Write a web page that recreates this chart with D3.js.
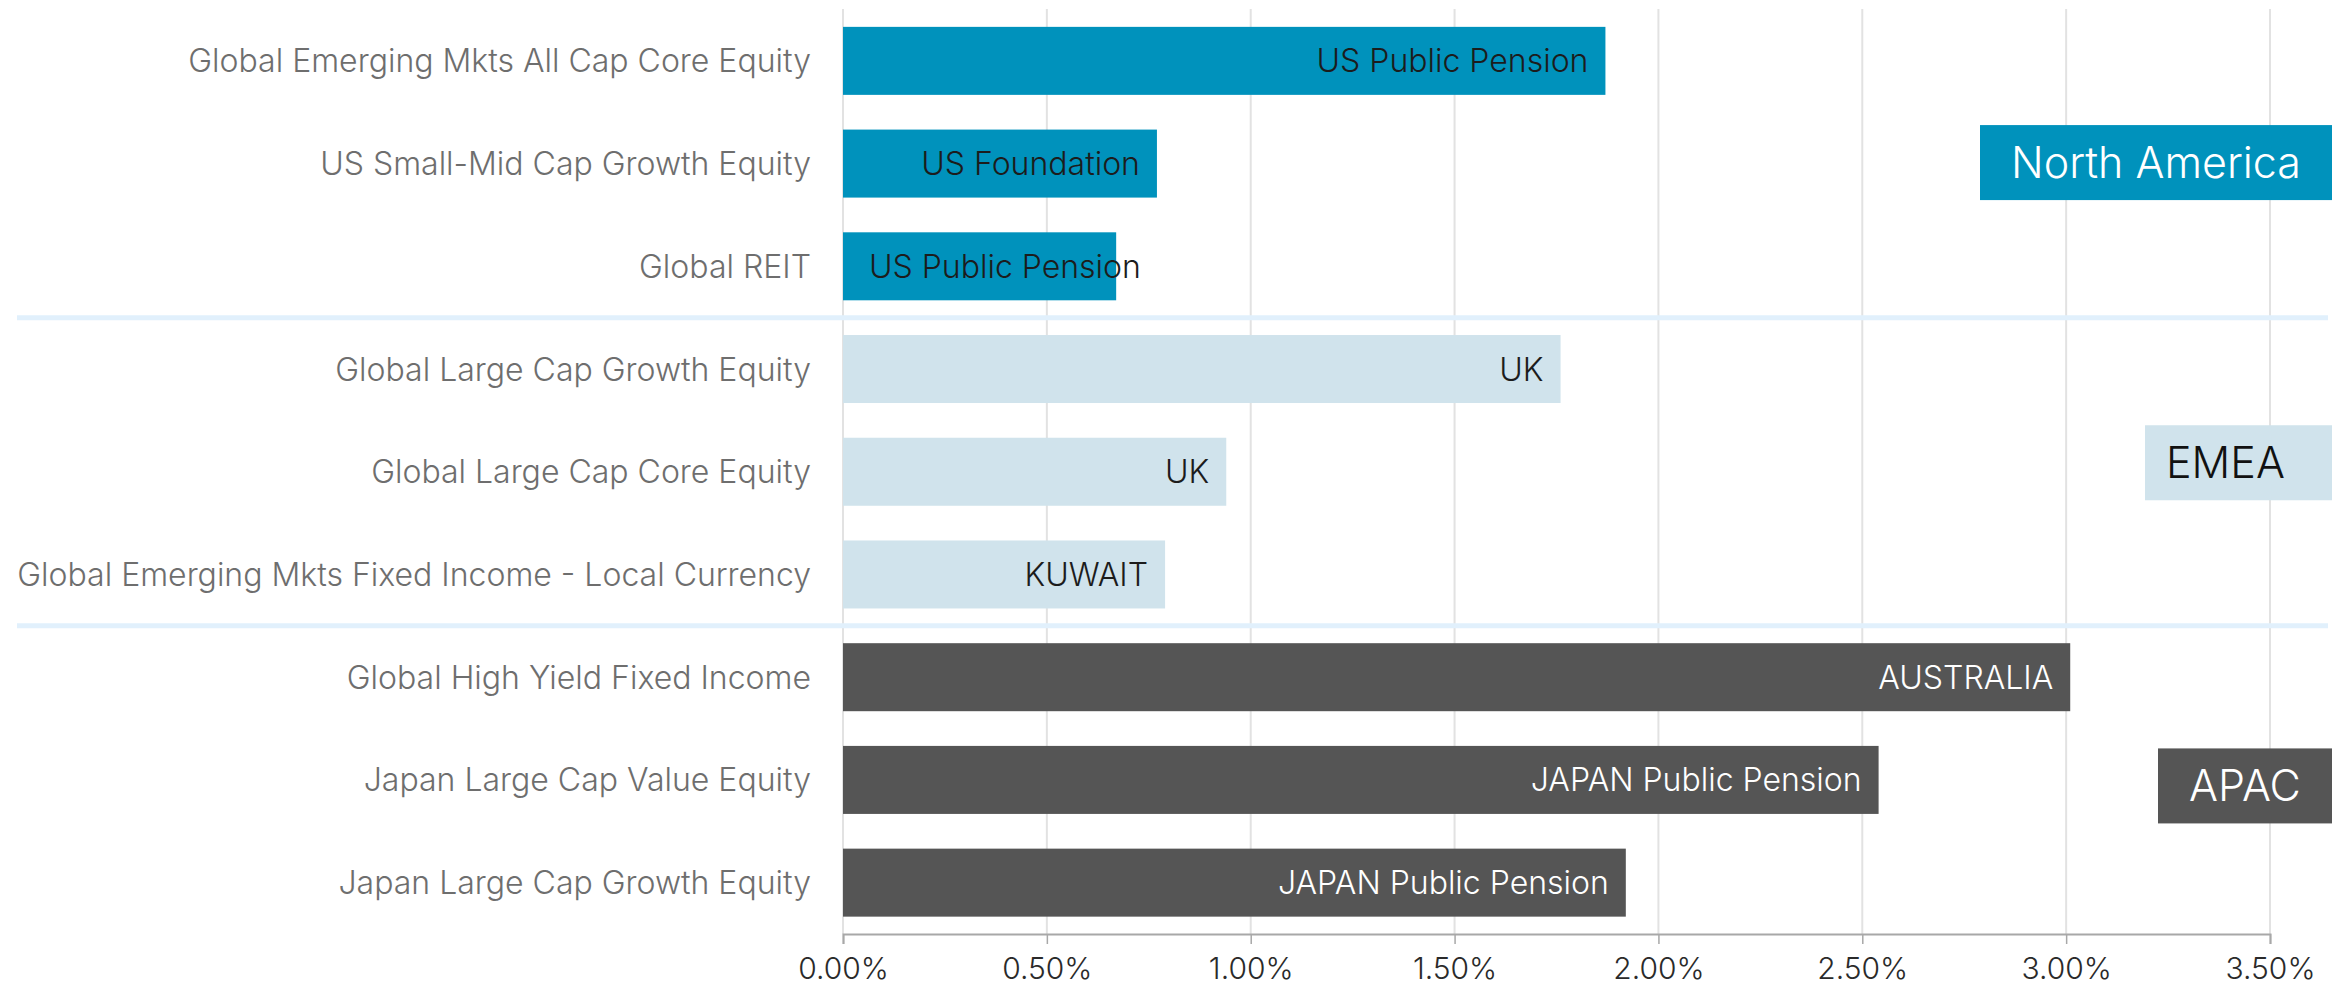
<!DOCTYPE html>
<html>
<head>
<meta charset="utf-8">
<script src="https://cdn.jsdelivr.net/npm/d3@7"></script>
<style>
  html, body { margin: 0; padding: 0; background: #fff; }
  svg { display: block; font-family: Inter, "Noto Sans", sans-serif; }
</style>
</head>
<body>
<svg id="chart" width="2348" height="991"></svg>
<script>
// ── Data ──
var categories = [
  'Global Emerging Mkts All Cap Core Equity',
  'US Small-Mid Cap Growth Equity',
  'Global REIT',
  'Global Large Cap Growth Equity',
  'Global Large Cap Core Equity',
  'Global Emerging Mkts Fixed Income - Local Currency',
  'Global High Yield Fixed Income',
  'Japan Large Cap Value Equity',
  'Japan Large Cap Growth Equity'
];
var values = [1.87, 0.77, 0.67, 1.76, 0.94, 0.79, 3.01, 2.54, 1.92];   // percent
var investors = [
  'US Public Pension', 'US Foundation', 'US Public Pension',
  'UK', 'UK', 'KUWAIT',
  'AUSTRALIA', 'JAPAN Public Pension', 'JAPAN Public Pension'
];
var regionOf = [
  'North America', 'North America', 'North America',
  'EMEA', 'EMEA', 'EMEA',
  'APAC', 'APAC', 'APAC'
];
var regionNames = ['North America', 'EMEA', 'APAC'];
var xTicks = [0, 0.5, 1, 1.5, 2, 2.5, 3, 3.5];

(function () {
  'use strict';

  var svg = d3.select('#chart');

  var regionFill = { 'North America': '#0092bc', 'EMEA': '#d0e3ec', 'APAC': '#555555' };
  var regionText = { 'North America': '#1c1c1c', 'EMEA': '#1c1c1c', 'APAC': '#ffffff' };
  var boxText = { 'North America': '#ffffff', 'EMEA': '#111111', 'APAC': '#ffffff' };

  var rows = categories.map(function (c, i) {
    return { cat: c, value: values[i], investor: investors[i], region: regionOf[i] };
  });

  var x = d3.scaleLinear().domain([0, 3.5]).range([843, 2270]);
  var y = d3.scaleBand().domain(categories).range([9.5, 934]).paddingInner(0.338).paddingOuter(0.169);

  // ── Grid ──
  svg.append('g').selectAll('line').data(xTicks).join('line')
    .attr('x1', function (d) { return x(d); }).attr('x2', function (d) { return x(d); })
    .attr('y1', 9).attr('y2', 934)
    .attr('stroke', '#e2e2e2').attr('stroke-width', 2);

  // ── Region separators ──
  var step = y.step(), gap = step * y.paddingInner();
  var seps = [categories[3], categories[6]];
  svg.append('g').selectAll('line').data(seps).join('line')
    .attr('x1', 17).attr('x2', 2328)
    .attr('y1', function (d) { return y(d) - gap / 2; })
    .attr('y2', function (d) { return y(d) - gap / 2; })
    .attr('stroke', '#e1f0fc').attr('stroke-width', 5);

  // ── Bars ──
  svg.append('g').selectAll('rect').data(rows).join('rect')
    .attr('x', x(0))
    .attr('y', function (d) { return y(d.cat); })
    .attr('width', function (d) { return x(d.value) - x(0); })
    .attr('height', y.bandwidth())
    .attr('fill', function (d) { return regionFill[d.region]; });

  // ── Bar labels ──
  var lbl = svg.append('g').selectAll('text').data(rows).join('text')
    .attr('y', function (d) { return y(d.cat) + y.bandwidth() / 2; })
    .attr('dy', '0.36em')
    .attr('text-anchor', 'end')
    .attr('font-size', 32).attr('font-weight', 300)
    .attr('fill', function (d) { return regionText[d.region]; })
    .text(function (d) { return d.investor; });
  lbl.attr('x', function (d) {
    var w = this.getComputedTextLength();
    return Math.max(x(d.value) - 17, x(0) + 26 + w);
  });

  // ── Category labels ──
  svg.append('g').selectAll('text').data(categories).join('text')
    .attr('x', 811)
    .attr('y', function (d) { return y(d) + y.bandwidth() / 2; })
    .attr('dy', '0.36em')
    .attr('text-anchor', 'end')
    .attr('font-size', 32).attr('font-weight', 300)
    .attr('fill', '#6e6e6e')
    .text(function (d) { return d; });

  // ── X axis ──
  var axis = svg.append('g').attr('transform', 'translate(0,934)')
    .call(d3.axisBottom(x).tickValues(xTicks).tickSize(10).tickPadding(14)
      .tickFormat(function (d) { return d.toFixed(2) + '%'; }));
  axis.select('.domain').attr('stroke', '#a8a8a8').attr('stroke-width', 2);
  axis.selectAll('.tick line').attr('stroke', '#a8a8a8').attr('stroke-width', 1.5);
  axis.selectAll('.tick text')
    .attr('font-family', 'Inter, "Noto Sans", sans-serif')
    .attr('font-size', 30).attr('font-weight', 300).attr('fill', '#2a2a2a');

  // ── Region boxes ──
  var boxes = [
    { name: regionNames[0], mid: categories[1], w: 352, dy: -1, align: 'middle' },
    { name: regionNames[1], mid: categories[4], w: 187, dy: -9, align: 'start' },
    { name: regionNames[2], mid: categories[7], w: 174, dy: 6, align: 'middle' }
  ];
  var boxRight = 2332, boxH = 75;
  var bg = svg.append('g').selectAll('g').data(boxes).join('g')
    .attr('transform', function (d) {
      var cy = y(d.mid) + y.bandwidth() / 2 + d.dy;
      return 'translate(' + (boxRight - d.w) + ',' + (cy - boxH / 2) + ')';
    });
  bg.append('rect').attr('width', function (d) { return d.w; }).attr('height', boxH)
    .attr('fill', function (d) { return regionFill[d.name]; });
  bg.append('text')
    .attr('x', function (d) { return d.align === 'middle' ? d.w / 2 : 21; })
    .attr('y', boxH / 2).attr('dy', '0.36em')
    .attr('text-anchor', function (d) { return d.align; })
    .attr('font-size', 43).attr('font-weight', 300)
    .attr('fill', function (d) { return boxText[d.name]; })
    .text(function (d) { return d.name; });
})();
</script>
</body>
</html>
